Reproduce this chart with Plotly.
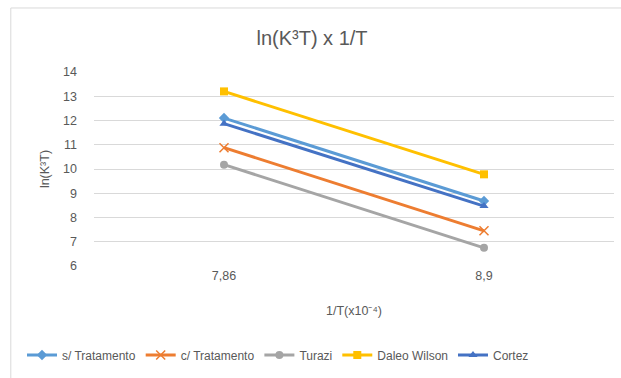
import plotly.graph_objects as go

categories = ["7,86", "8,9"]
series_names = ["s/ Tratamento", "c/ Tratamento", "Turazi", "Daleo Wilson", "Cortez"]
s_tratamento = [12.1, 8.68]
c_tratamento = [10.88, 7.45]
turazi = [10.18, 6.75]
daleo_wilson = [13.2, 9.78]
cortez = [11.87, 8.47]
y_ticks = [6, 7, 8, 9, 10, 11, 12, 13, 14]

values = [s_tratamento, c_tratamento, turazi, daleo_wilson, cortez]
colors = ["#5B9BD5", "#ED7D31", "#A5A5A5", "#FFC000", "#4472C4"]
symbols = ["diamond", "x-thin", "circle", "square", "triangle-up"]

fig = go.Figure()
for name, vals, col, sym in zip(series_names, values, colors, symbols):
    marker = dict(symbol=sym, size=8, color=col)
    if sym == "x-thin":
        marker = dict(symbol=sym, size=9, color=col, line=dict(color=col, width=1.5))
    fig.add_trace(go.Scatter(x=categories, y=vals, name=name, mode="lines+markers",
                             line=dict(color=col, width=3), marker=marker))

font_family = "Liberation Sans, Arial"
fig.update_layout(
    width=621, height=378,
    margin=dict(l=94, r=7, t=72, b=112),
    paper_bgcolor="white", plot_bgcolor="white",
    font=dict(family=font_family, color="#595959", size=12.5),
    title=dict(text="ln(K³T) x 1/T", x=312 / 621, xref="container", xanchor="center",
               y=1 - 38 / 378, yref="container", yanchor="middle",
               font=dict(size=20, color="#595959")),
    xaxis=dict(type="category", range=[-0.5, 1.5], showgrid=False, zeroline=False,
               showline=False, ticks="", tickfont=dict(size=12.5),
               title=dict(text="1/T(x10⁻⁴)", font=dict(size=12.5), standoff=24)),
    yaxis=dict(range=[6, 14], tickvals=y_ticks, showgrid=True, gridcolor="#D9D9D9",
               gridwidth=1, zeroline=False, showline=False, ticks="",
               tickfont=dict(size=12.5), ticklabelstandoff=16,
               title=dict(text="ln(K³T)", font=dict(size=12.5), standoff=10)),
    legend=dict(orientation="h", xref="container", x=278 / 621, xanchor="center",
                yref="container", y=1 - 355 / 378, yanchor="middle",
                font=dict(size=12), itemwidth=30, tracegroupgap=0),
    shapes=[dict(type="rect", xref="paper", yref="paper", x0=-0.16, x1=1.3,
                 y0=-0.8, y1=1.33, line=dict(color="#D9D9D9", width=1), layer="below")],
)
fig.write_html("out.html", config={"displayModeBar": False},
               post_script="document.body.style.margin='0';")
